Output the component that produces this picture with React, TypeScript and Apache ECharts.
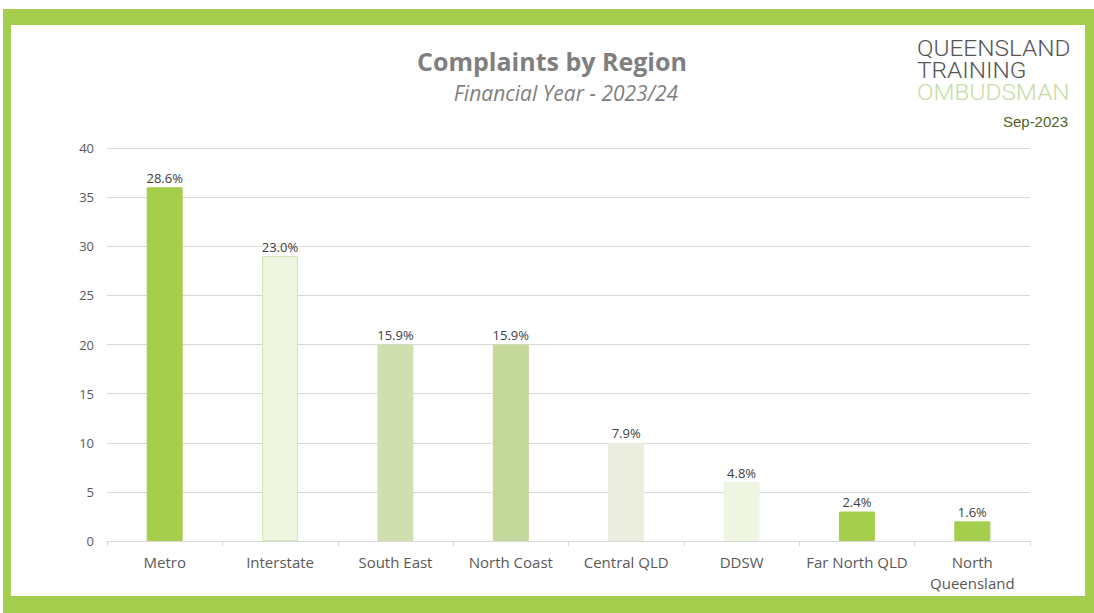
import React, { useEffect, useRef } from "react";
import * as echarts from "echarts";

const categories = ["Metro", "Interstate", "South East", "North Coast", "Central QLD", "DDSW", "Far North QLD", "North\nQueensland"];
const complaints = [36, 29, 20, 20, 10, 6, 3, 2];
const percentLabels = ["28.6%", "23.0%", "15.9%", "15.9%", "7.9%", "4.8%", "2.4%", "1.6%"];
const barColors = ["#a5ce4d", "#eef5e1", "#cfdfb0", "#c5d89c", "#ebeedf", "#eef5e1", "#a5ce4d", "#a5ce4d"];
const barBorders = ["#a5ce4d", "#d3e5b4", "#cfdfb0", "#c5d89c", "#ebeedf", "#eef5e1", "#a5ce4d", "#a5ce4d"];

export default function App() {
  const ref = useRef<HTMLDivElement>(null);
  useEffect(() => {
    if (!ref.current) return;
    const chart = echarts.init(ref.current, undefined, { renderer: "svg" });
    const font = "'Open Sans', sans-serif";
    const logoFont = "300 21px Roboto";
    chart.setOption({
      animation: false,
      backgroundColor: "#ffffff",
      title: [
        {
          text: "Complaints by Region",
          left: 547,
          top: 43,
          textAlign: "center",
          textStyle: { fontFamily: font, fontSize: 25, fontWeight: "bold", color: "#7f7f7f" },
        },
        {
          text: "Financial Year - 2023/24",
          left: 561,
          top: 77,
          textAlign: "center",
          textStyle: { fontFamily: font, fontSize: 21, fontStyle: "italic", fontWeight: "normal", color: "#7f7f7f" },
        },
      ],
      graphic: [
        { type: "rect", z: -10, shape: { x: 3, y: 9, width: 1091, height: 604 }, style: { fill: "#a6ce4e" } },
        { type: "rect", z: -9, shape: { x: 11, y: 25, width: 1074, height: 571 }, style: { fill: "#ffffff" } },
        { type: "text", x: 917, y: 37, scaleX: 1.16, scaleY: 1.05, style: { text: "QUEENSLAND", align: "left", font: logoFont, fill: "#555555" } },
        { type: "text", x: 917, y: 59, scaleX: 1.16, scaleY: 1.05, style: { text: "TRAINING", align: "left", font: logoFont, fill: "#555555" } },
        { type: "text", x: 917, y: 81, scaleX: 1.16, scaleY: 1.05, style: { text: "OMBUDSMAN", align: "left", font: logoFont, fill: "#c8dda6" } },
        { type: "text", x: 1068, y: 114, style: { text: "Sep-2023", align: "right", font: "15px 'Liberation Sans', Arial", fill: "#4f6228" } },
      ],
      grid: { left: 107, right: 64, top: 148, bottom: 72, containLabel: false },
      xAxis: {
        type: "category",
        data: categories,
        axisLine: { show: true, lineStyle: { color: "#d9d9d9", width: 1 } },
        axisTick: { show: true, length: 5, lineStyle: { color: "#d9d9d9" } },
        axisLabel: { color: "#595959", fontFamily: font, fontSize: 15, margin: 10, lineHeight: 21, interval: 0 },
      },
      yAxis: {
        type: "value",
        min: 0,
        max: 40,
        interval: 5,
        axisLine: { show: false },
        axisTick: { show: false },
        axisLabel: { color: "#595959", fontFamily: font, fontSize: 13, margin: 13 },
        splitLine: { lineStyle: { color: "#d9d9d9", width: 1 } },
      },
      series: [
        {
          type: "bar",
          barWidth: 36,
          data: complaints.map((v, i) => ({
            value: v,
            itemStyle: { color: barColors[i], borderColor: barBorders[i], borderWidth: 1 },
            label: { formatter: percentLabels[i] },
          })),
          label: { show: true, position: "top", distance: 3, color: "#404040", fontFamily: font, fontSize: 13 },
        },
      ],
    });
    return () => chart.dispose();
  }, []);
  return <div ref={ref} style={{ position: "absolute", left: 0, top: 0, width: 1094, height: 613 }} />;
}
